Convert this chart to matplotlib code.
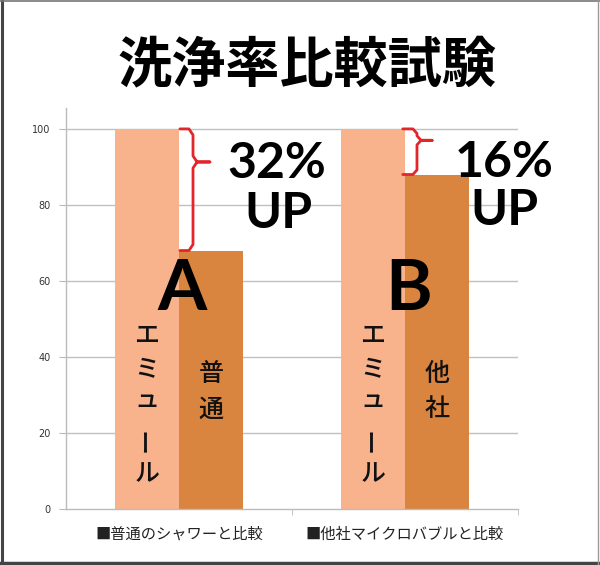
import matplotlib
matplotlib.use("Agg")
import matplotlib.pyplot as plt
from matplotlib.lines import Line2D
import numpy as np

plt.rcParams['font.family'] = ['Noto Sans CJK JP', 'DejaVu Sans']

# ---- data ----
categories = ["■普通のシャワーと比較", "■他社マイクロバブルと比較"]
emuru_values = [100, 100]
other_values = [68, 88]
group_letters = ["A", "B"]
other_names = ["普通", "他社"]
emuru_name = "エミュール"
pct_labels = ["32%", "16%"]
up_label = "UP"
yticks = [0, 20, 40, 60, 80, 100]
title = "洗浄率比較試験"

c_light = "#F8B28C"
c_dark = "#D9843F"
c_red = "#E3262A"

fig = plt.figure(figsize=(6.0, 5.65), dpi=100)
ax = fig.add_axes([66/600, 1-509/565, (518-66)/600, (509-108)/565])

x = np.arange(len(categories))
w = 0.283
ax.bar(x - w/2, emuru_values, w, color=c_light, zorder=2)
ax.bar(x + w/2, other_values, w, color=c_dark, zorder=2)

ax.set_xlim(-0.5, 1.5)
ax.set_ylim(0, 105.5)
ax.set_yticks(yticks)
ax.set_yticklabels([str(v) for v in yticks], fontsize=7, color="#333333",
                   family=['DejaVu Sans'])
ax.set_xticks(x)
ax.set_xticklabels(categories, fontsize=11, color="#222222")
ax.set_xticks([0.5, 1.5], minor=True)
ax.tick_params(axis='x', which='major', length=0, pad=12)
ax.tick_params(axis='x', which='minor', length=4, color="#BBBBBB")
ax.tick_params(axis='y', length=5, color="#BBBBBB", pad=6)
for v in yticks[1:]:
    ax.axhline(v, color="#C0C0C0", lw=1.0, zorder=1)
for s in ["top", "right"]:
    ax.spines[s].set_visible(False)
for s in ["left", "bottom"]:
    ax.spines[s].set_color("#BBBBBB")
    ax.spines[s].set_linewidth(1.0)

# vertical text in bars
step = 9.1
for i in range(len(categories)):
    for k, ch in enumerate(emuru_name):
        rot = 90 if ch == "ー" else 0
        yy = 45.5 - k*step + (1.5 if ch == "ュ" else 0)
        ax.text(x[i] - w/2, yy, ch, ha="center", va="center", fontsize=18,
                rotation=rot, color="#111111", fontweight="medium", zorder=4)
    for k, ch in enumerate(other_names[i]):
        ax.text(x[i] + w/2, 35.5 - k*9.3, ch, ha="center", va="center",
                fontsize=18, color="#111111", fontweight="medium", zorder=4)
    ax.text(x[i] + 0.015, 52.4, group_letters[i], ha="center", va="baseline",
            fontsize=51, fontweight="bold", family=["Lato", "DejaVu Sans"],
            color="black", zorder=4)

# UP labels
pct_pos = [(0.431, 87.1), (1.438, 87.4)]
up_pos = [(0.442, 73.9), (1.442, 74.7)]
for (px, py), (ux, uy), lab in zip(pct_pos, up_pos, pct_labels):
    ax.text(px, py, lab, ha="center", va="baseline", fontsize=36,
            fontweight="bold", family=["Lato", "DejaVu Sans"],
            color="black", zorder=5)
    ax.text(ux, uy, up_label, ha="center", va="baseline", fontsize=36,
            fontweight="bold", family=["Lato", "DejaVu Sans"],
            color="black", zorder=5)

# braces
def brace(x0, xv, xn, yt, yb, yn, d=1.6, r=0.018):
    xs = [x0, xv - r, xv, xv, xv + r, xn, xv + r, xv, xv, xv - r, x0]
    ys = [yt, yt, yt - d, yn + d, yn, yn, yn, yn - d, yb + d, yb, yb]
    ax.plot(xs, ys, color=c_red, lw=2.0, solid_joinstyle="round",
            solid_capstyle="round", zorder=6, clip_on=False)

brace(x[0] + 0.004, x[0] + 0.062, x[0] + 0.137,
      emuru_values[0], other_values[0], 91.3)
brace(x[1] - 0.01, x[1] + 0.053, x[1] + 0.12,
      emuru_values[1], other_values[1], 97.0, d=1.2)

fig.text(0.512, 1-66/565, title, ha="center", va="center", fontsize=39,
         fontweight="bold", color="black")

# figure frame
def fline(xs, ys, c, lw):
    fig.add_artist(Line2D(xs, ys, transform=fig.transFigure, color=c, lw=lw))

fline([0.003, 0.003], [0, 1], "#444444", 2.2)
fline([0, 1], [0.004, 0.004], "#444444", 2.5)
fline([0, 1], [0.999, 0.999], "#777777", 1.2)
fline([0.996, 0.996], [0, 1], "#999999", 1.0)

fig.savefig("out.png", dpi=100)
